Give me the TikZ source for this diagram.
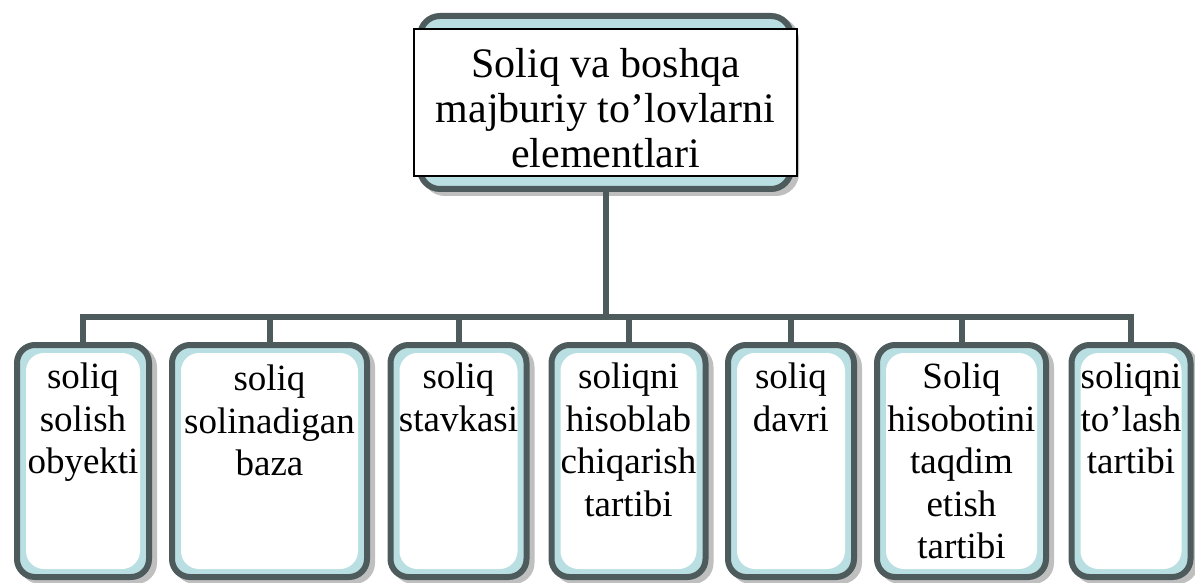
\documentclass[tikz,border=0pt]{standalone}
\usepackage{fontspec}
\setmainfont{Liberation Serif}
\usetikzlibrary{calc,backgrounds}

\definecolor{frame}{HTML}{4D5B5C}
\definecolor{band}{HTML}{B9DFE2}
\definecolor{shade}{HTML}{BFBFBF}

\tikzset{
  card/.style={rectangle, rounded corners=18pt, draw=frame, line width=6pt,
    fill=band, inner sep=0pt, minimum height=232pt,
    path picture={\fill[white]
      ($(path picture bounding box.north west)+(9pt,-8pt)$) rectangle
      ($(path picture bounding box.south east)+(-9pt,8pt)$);}},
  cardshadow/.style={rectangle, rounded corners=18pt, draw=shade, fill=shade,
    line width=6pt, inner sep=0pt, minimum height=232pt},
  headframe/.style={rectangle, rounded corners=20pt, draw=frame, line width=6pt,
    fill=band, inner sep=0pt, minimum width=371pt, minimum height=173pt},
  headshadow/.style={rectangle, rounded corners=20pt, draw=shade, fill=shade,
    line width=6pt, inner sep=0pt, minimum width=371pt, minimum height=173pt},
  headbox/.style={rectangle, draw=black, line width=1.5pt, fill=white,
    inner sep=0pt, minimum width=383pt, minimum height=147pt},
  link/.style={draw=frame, line width=6pt},
  lbl/.style={font=\fontsize{37}{42.5}\selectfont, align=center,
    inner sep=0pt, anchor=north},
  headlbl/.style={font=\fontsize{42}{45}\selectfont, align=center,
    inner sep=0pt, anchor=north},
}

\begin{document}
\begin{tikzpicture}[x=1pt, y=-1pt]
\useasboundingbox (0,0) rectangle (1195,583);

% header: rounded frame with a white title box laid over it
\node[headframe] (head) at (605.5,102.5) {};
\node[headbox] (title) at (605.5,102.5) {};

% the seven element boxes
\node[card, minimum width=132pt] (b1) at (83,461) {};
\node[card, minimum width=195pt] (b2) at (269.5,461) {};
\node[card, minimum width=136pt] (b3) at (458.5,461) {};
\node[card, minimum width=154pt] (b4) at (628.5,461) {};
\node[card, minimum width=126pt] (b5) at (791,461) {};
\node[card, minimum width=169pt] (b6) at (961.5,461) {};
\node[card, minimum width=119pt] (b7) at (1131,461) {};

% drop shadows and connectors sit behind the boxes
\coordinate (bus) at (605.5,317);
\begin{scope}[on background layer]
  \node[headshadow] (hs) at ([shift={(5pt,-4pt)}]head.center) {};
  \foreach \b/\w in {b1/132,b2/195,b3/136,b4/154,b5/126,b6/169,b7/119}
    \node[cardshadow, minimum width=\w pt] (s\b) at ([shift={(5pt,-4pt)}]\b.center) {};
  \draw[link] (head.south) -- (head.south |- bus);
  \draw[link] (b1.north) |- (b7.north |- bus) -- (b7.north);
  \foreach \b in {b2,b3,b4,b5,b6}
    \draw[link] (\b.north |- bus) -- (\b.north);
\end{scope}

% texts
\node[headlbl] (t0) at (605.5,48) {Soliq va boshqa\\majburiy to’lovlarni\\elementlari};
\node[lbl] (t1) at (83,363) {soliq\\solish\\obyekti};
\node[lbl] (t2) at (269.5,365) {soliq\\solinadigan\\baza};
\node[lbl] (t3) at (458.5,363) {soliq\\stavkasi};
\node[lbl] (t4) at (628.5,363) {soliqni\\hisoblab\\chiqarish\\tartibi};
\node[lbl] (t5) at (791,363) {soliq\\davri};
\node[lbl] (t6) at (961.5,363) {Soliq\\hisobotini\\taqdim\\etish\\tartibi};
\node[lbl] (t7) at (1131,363) {soliqni\\to’lash\\tartibi};
\end{tikzpicture}
\end{document}
